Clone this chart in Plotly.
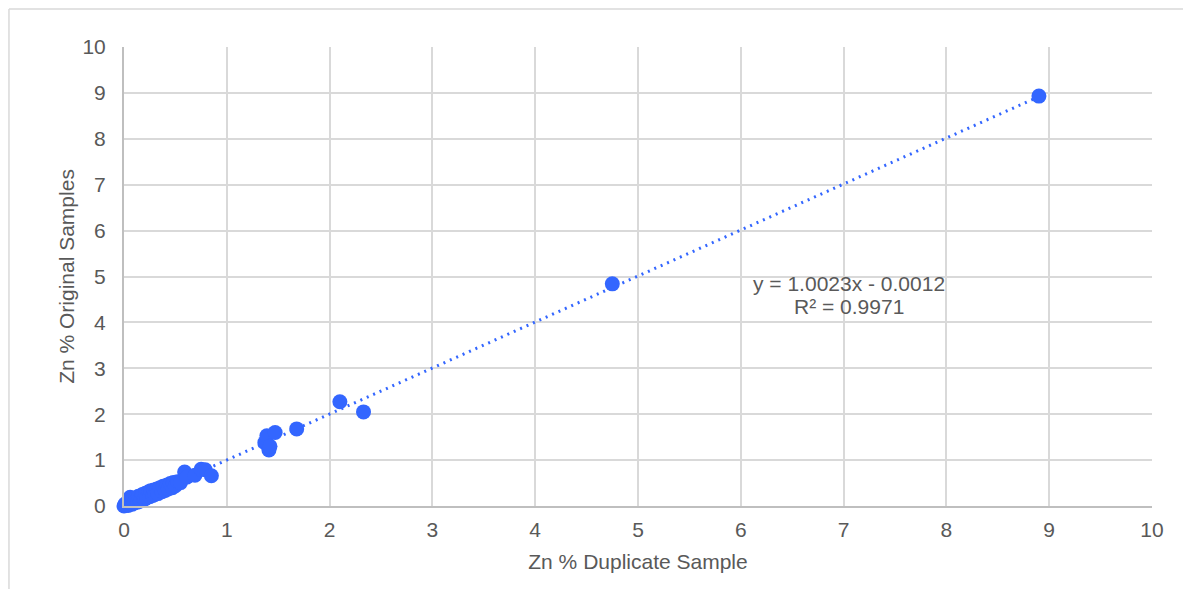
import plotly.graph_objects as go

# Duplicate (x) vs original (y) Zn %
dup_zn = [0.00, 0.01, 0.02, 0.03, 0.04, 0.05, 0.06, 0.06, 0.08, 0.09, 0.10, 0.12,
          0.13, 0.14, 0.16, 0.17, 0.18, 0.20, 0.21, 0.22, 0.24, 0.25, 0.26, 0.28,
          0.29, 0.30, 0.32, 0.33, 0.35, 0.37, 0.38, 0.40, 0.42, 0.43, 0.45, 0.47,
          0.48, 0.50, 0.52, 0.55, 0.59, 0.61, 0.69, 0.75, 0.79, 0.85,
          1.37, 1.39, 1.41, 1.42, 1.47, 1.68, 2.10, 2.33, 4.75, 8.90]
orig_zn = [0.00, 0.04, -0.01, 0.07, 0.01, 0.09, 0.19, 0.12, 0.04, 0.16, 0.07, 0.18,
           0.08, 0.21, 0.11, 0.23, 0.25, 0.15, 0.28, 0.18, 0.31, 0.20, 0.33, 0.23,
           0.35, 0.25, 0.37, 0.27, 0.40, 0.31, 0.43, 0.34, 0.46, 0.37, 0.49, 0.40,
           0.51, 0.44, 0.53, 0.51, 0.74, 0.63, 0.67, 0.80, 0.79, 0.66,
           1.38, 1.53, 1.22, 1.30, 1.60, 1.68, 2.27, 2.05, 4.84, 8.93]

slope = 1.0023
intercept = -0.0012
r2 = 0.9971

x_title = "Zn % Duplicate Sample"
y_title = "Zn % Original Samples"
ticks = list(range(0, 11))

blue = "#3366ff"
grid = "#d9d9d9"
axis_col = "#bfbfbf"
txt = "#595959"
font_family = "Liberation Sans, Arial, sans-serif"

x0, x1 = min(dup_zn), max(dup_zn)

fig = go.Figure()
fig.add_trace(go.Scatter(
    x=[x0, x1], y=[slope * x0 + intercept, slope * x1 + intercept],
    mode="lines", line=dict(color=blue, width=3, dash="2px,5px"),
    hoverinfo="skip", showlegend=False, cliponaxis=False))
fig.add_trace(go.Scatter(
    x=dup_zn, y=orig_zn, mode="markers",
    marker=dict(color=blue, size=15, line=dict(width=0)),
    showlegend=False, cliponaxis=False))

fig.add_annotation(
    x=7.05, y=4.837, xref="x", yref="y", showarrow=False,
    text=f"y = {slope:.4f}x - {abs(intercept):.4f}",
    font=dict(size=21, color=txt, family=font_family))
fig.add_annotation(
    x=7.05, y=4.336, xref="x", yref="y", showarrow=False,
    text=f"R² = {r2:.4f}",
    font=dict(size=21, color=txt, family=font_family))

# outer chart border (top and left visible)
fig.add_shape(type="line", xref="paper", yref="paper",
              x0=-0.1119, x1=1.1, y0=1.0828, y1=1.0828,
              line=dict(color=grid, width=1.5))
fig.add_shape(type="line", xref="paper", yref="paper",
              x0=-0.1119, x1=-0.1119, y0=1.0828, y1=-0.25,
              line=dict(color=grid, width=1.5))

axis_common = dict(
    range=[0, 10], tickvals=ticks, ticktext=[str(t) for t in ticks],
    showgrid=True, gridcolor=grid, gridwidth=1.5, zeroline=False,
    showline=True, linecolor=axis_col, linewidth=2,
    tickfont=dict(size=21, color=txt, family=font_family),
    title_font=dict(size=21, color=txt, family=font_family),
    ticks="")

fig.update_xaxes(**axis_common, title_text=x_title, title_standoff=14,
                 ticklabelstandoff=4)
fig.update_yaxes(**axis_common, title_text=y_title, title_standoff=2,
                 ticklabelstandoff=12)

fig.update_layout(
    width=1191, height=589,
    margin=dict(l=116, r=47, t=39, b=91),
    plot_bgcolor="white", paper_bgcolor="white",
    font=dict(family=font_family, color=txt),
)

fig.write_html("out.html")
